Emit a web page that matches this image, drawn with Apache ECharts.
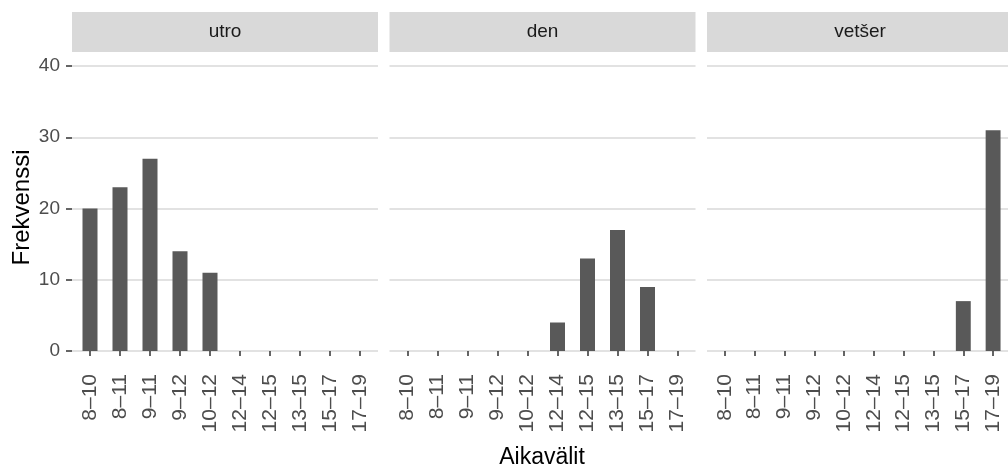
<!DOCTYPE html>
<html>
<head>
<meta charset="utf-8">
<script src="https://cdn.jsdelivr.net/npm/echarts@6/dist/echarts.min.js"></script>
<style>
  html, body { margin: 0; padding: 0; background: #fff; }
  #chart { width: 1008px; height: 471px; }
</style>
</head>
<body>
<div id="chart"></div>
<script>
// data
const categories = ['8–10', '8–11', '9–11', '9–12', '10–12', '12–14', '12–15', '13–15', '15–17', '17–19'];
const panels = ['utro', 'den', 'vetšer'];
const utro = [20, 23, 27, 14, 11, null, null, null, null, null];
const den = [null, null, null, null, null, 4, 13, 17, 9, null];
const vetser = [null, null, null, null, null, null, null, null, 7, 31];
const yMin = 0, yMax = 40, yStep = 10;

const panelData = [utro, den, vetser];

// layout (ggplot-like facets)
const panelLeft = 72, panelWidth = 306, panelGap = 11.5;
const plotTop = 66, plotHeight = 285;   // 40 .. 0
const stripTop = 12, stripHeight = 40;
const font = '"Liberation Sans", Arial, sans-serif';

const grids = [], xAxes = [], yAxes = [], series = [], graphics = [];

panels.forEach((name, i) => {
  const left = panelLeft + i * (panelWidth + panelGap);
  const step = panelWidth / 10.2;   // 0.6 step padding each side

  // background grid: gridlines
  grids.push({ left: left, top: plotTop, width: panelWidth, height: plotHeight });
  // data grid
  grids.push({ left: left + 0.1 * step, top: plotTop, width: 10 * step, height: plotHeight });

  xAxes.push({ type: 'category', gridIndex: 2 * i, data: categories, show: false });
  xAxes.push({
    type: 'category', gridIndex: 2 * i + 1, data: categories,
    position: 'bottom', offset: 14,
    axisLine: { show: false },
    axisTick: { show: true, alignWithLabel: true, length: 5, lineStyle: { color: '#333', width: 1.5 } },
    axisLabel: { interval: 0, rotate: 90, margin: 9, fontSize: 21, color: '#4d4d4d', fontFamily: font },
    splitLine: { show: false }
  });

  yAxes.push({
    type: 'value', gridIndex: 2 * i, min: yMin, max: yMax, interval: yStep,
    axisLine: { show: false },
    axisTick: { show: i === 0, length: 6, lineStyle: { color: '#333', width: 1.5 } },
    axisLabel: { show: i === 0, margin: 12, fontSize: 19, color: '#4d4d4d', fontFamily: font },
    splitLine: { show: true, lineStyle: { color: '#e2e2e2', width: 2 } }
  });
  yAxes.push({ type: 'value', gridIndex: 2 * i + 1, min: yMin, max: yMax, interval: yStep, show: false, splitLine: { show: false } });

  series.push({
    type: 'bar', name: name, xAxisIndex: 2 * i + 1, yAxisIndex: 2 * i + 1,
    data: panelData[i], barWidth: '50%',
    itemStyle: { color: '#595959' }, silent: true
  });

  // facet strip
  graphics.push({
    type: 'rect', shape: { x: left, y: stripTop, width: panelWidth, height: stripHeight },
    style: { fill: '#d9d9d9' }, silent: true
  });
  graphics.push({
    type: 'text', x: left + panelWidth / 2, y: stripTop + stripHeight / 2,
    style: { text: name, fontSize: 19, fill: '#1a1a1a', fontFamily: font, align: 'center', verticalAlign: 'middle' },
    silent: true
  });
});

// axis titles
graphics.push({
  type: 'text', x: 542, y: 458,
  style: { text: 'Aikavälit', fontSize: 23, fill: '#000', fontFamily: font, align: 'center', verticalAlign: 'middle' }
});
graphics.push({
  type: 'text', x: 22, y: plotTop + plotHeight / 2 - 1, rotation: Math.PI / 2,
  style: { text: 'Frekvenssi', fontSize: 24, fill: '#000', fontFamily: font, align: 'center', verticalAlign: 'middle' }
});

const chart = echarts.init(document.getElementById('chart'));
chart.setOption({
  animation: false,
  backgroundColor: '#fff',
  grid: grids,
  xAxis: xAxes,
  yAxis: yAxes,
  series: series,
  graphic: graphics
});
</script>
</body>
</html>
